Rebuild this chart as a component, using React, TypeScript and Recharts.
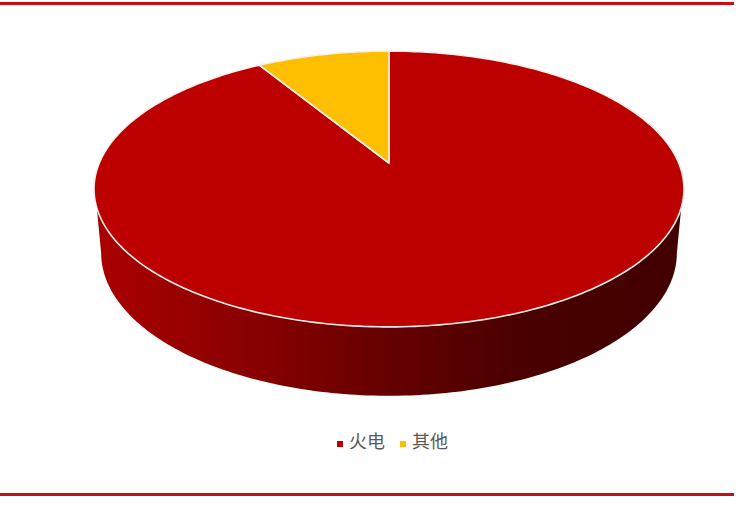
import { Legend, Pie, PieChart, Cell } from "recharts";

const categories = ["火电", "其他"];
const shares = [91.3, 8.7];
const colors = ["#bc0000", "#fdbf00"];

const data = categories.map((name, i) => ({ name, value: shares[i] }));

const RAD = Math.PI / 180;
const K = 0.1884; // perspective of the tilted disc

// map a pie angle onto the tilted disc, apex at (cx, cy)
function project(deg: number, cx: number, cy: number, a: number, b: number) {
  const u = Math.cos(deg * RAD);
  const v = Math.sin(deg * RAD);
  const w = 1 + K * v;
  return [cx + (a * u) / w, cy - (b * v) / w];
}

function arc(from: number, to: number, cx: number, cy: number, a: number, b: number) {
  const steps = Math.max(2, Math.ceil(Math.abs(to - from)));
  const pts = [];
  for (let i = 0; i <= steps; i++) {
    const p = project(from + ((to - from) * i) / steps, cx, cy, a, b);
    pts.push(p[0].toFixed(2) + " " + p[1].toFixed(2));
  }
  return pts;
}

function TopSlice(props: any) {
  const { cx, cy, startAngle, endAngle, fill } = props;
  const pts = arc(startAngle, endAngle, cx, cy, 289.7, 133);
  return (
    <path
      d={`M${cx} ${cy}L${pts.join("L")}Z`}
      fill={fill}
      stroke="#f6eeee"
      strokeWidth={1.6}
      strokeLinejoin="round"
    />
  );
}

// the rim only exists on the front half of the disc
function RimSlice(props: any) {
  const { cx, cy, startAngle, endAngle } = props;
  const lo = Math.min(startAngle, endAngle) + 360;
  const hi = Math.max(startAngle, endAngle) + 360;
  if (hi < 198.5 || lo > 341.5) return null;
  const upper = arc(198.5, 341.5, cx, cy, 289.7, 133);
  const lower = arc(349.1, 190.9, cx, cy + 63, 282.7, 137.8);
  return <path d={`M${upper.join("L")}L${lower.join("L")}Z`} fill="url(#rim)" />;
}

export default function App() {
  return (
    <div style={{ position: "absolute", left: 0, top: 0, width: 740, height: 506, background: "#fff", overflow: "hidden" }}>
      <div style={{ position: "absolute", left: 0, top: 2, width: 734, height: 3, background: "#c80f14" }} />
      <div style={{ position: "absolute", left: 0, top: 493, width: 734, height: 3, background: "#c80f14" }} />
      <PieChart width={740} height={506} margin={{ top: 0, right: 0, bottom: 0, left: 0 }}>
        <defs>
          <linearGradient id="rim" x1="0" y1="0" x2="1" y2="0">
            <stop offset="0%" stopColor="#ab0000" />
            <stop offset="30%" stopColor="#840000" />
            <stop offset="50%" stopColor="#660000" />
            <stop offset="72%" stopColor="#4a0000" />
            <stop offset="100%" stopColor="#420000" />
          </linearGradient>
        </defs>
        <Pie
          data={data}
          dataKey="value"
          nameKey="name"
          cx={389}
          cy={163}
          outerRadius={100}
          startAngle={90}
          endAngle={-270}
          legendType="none"
          shape={RimSlice}
          isAnimationActive={false}
        />
        <Pie
          data={data}
          dataKey="value"
          nameKey="name"
          cx={389}
          cy={163}
          outerRadius={100}
          startAngle={90}
          endAngle={-270}
          shape={TopSlice}
          isAnimationActive={false}
        >
          {data.map((d, i) => (
            <Cell key={d.name} fill={colors[i]} />
          ))}
        </Pie>
        <Legend
          iconType="square"
          iconSize={6}
          layout="horizontal"
          verticalAlign="bottom"
          align="left"
          itemSorter={null}
          wrapperStyle={{ left: 337, top: 427, bottom: "auto", width: 200 }}
          formatter={(value: string) => (
            <span style={{ color: "#595959", fontSize: 18, marginLeft: 2, marginRight: 5, fontFamily: "'Noto Sans CJK SC'" }}>{value}</span>
          )}
        />
      </PieChart>
    </div>
  );
}
